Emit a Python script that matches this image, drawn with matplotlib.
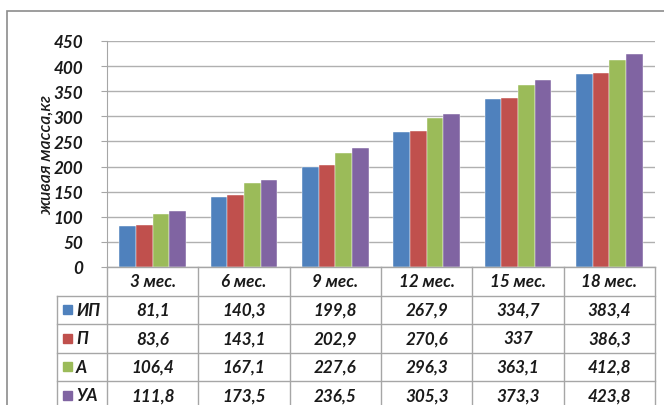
import matplotlib
matplotlib.use("Agg")
import matplotlib.pyplot as plt
from matplotlib.transforms import blended_transform_factory
from matplotlib.patches import Rectangle

# Live weight by age and group
periods = ["3 мес.", "6 мес.", "9 мес.", "12 мес.", "15 мес.", "18 мес."]
groups = ["ИП", "П", "А", "УА"]
ip = [81.1, 140.3, 199.8, 267.9, 334.7, 383.4]
p = [83.6, 143.1, 202.9, 270.6, 337, 386.3]
a = [106.4, 167.1, 227.6, 296.3, 363.1, 412.8]
ua = [111.8, 173.5, 236.5, 305.3, 373.3, 423.8]
series = [ip, p, a, ua]
colors = ["#4F81BD", "#C0504D", "#9BBB59", "#8064A2"]
yticks = [0, 50, 100, 150, 200, 250, 300, 350, 400, 450]

FONT = ["Lato", "DejaVu Sans"]
plt.rcParams["font.family"] = FONT
FS = 12.3

W, H = 664, 406
fig = plt.figure(figsize=(W / 100, H / 100), dpi=100)


def fx(px):
    return px / W


def fy(py):
    return 1 - py / H


# outer chart frame
fig.patches.append(Rectangle((fx(7), fy(420)), fx(700), fy(12) - fy(420),
                             transform=fig.transFigure, fill=False,
                             edgecolor="#8c8c8c", linewidth=1.2))

left, right, top, bottom = 107, 655, 42, 268
ax = fig.add_axes([fx(left), fy(bottom), fx(right - left), fy(top) - fy(bottom)])

n = len(series)
gap = 1.5
bw = 1 / (n + gap)
for k, (vals, c) in enumerate(zip(series, colors)):
    xs = [i + (gap / 2 + k + 0.5) * bw for i in range(len(periods))]
    ax.bar(xs, vals, width=bw, color=c, edgecolor="white", linewidth=0.3,
           zorder=3)

ax.set_xlim(0, len(periods))
ax.set_ylim(0, 450)
ax.set_yticks(yticks)
ax.set_yticklabels([str(t) for t in yticks], fontsize=FS,
                   fontweight="bold", fontstyle="italic", color="#1a1a1a")
ax.set_xticks([])
ax.grid(axis="y", color="#b0b0b0", linewidth=1.0, zorder=0)
for s in ["top", "right", "bottom"]:
    ax.spines[s].set_visible(False)
ax.spines["left"].set_color("#a6a6a6")
ax.tick_params(axis="y", length=4, color="#a6a6a6", pad=13)
ax.set_ylabel("живая масса,кг", fontsize=12.5, fontstyle="italic",
              fontweight="semibold", color="#1a1a1a")
ax.yaxis.set_label_coords(-(107 - 54) / (right - left), 0.5)

# data table under the plot area
tr = blended_transform_factory(ax.transData, fig.transFigure)
line_c = "#a6a6a6"
row_h = 28.5
rows_y = [bottom + row_h * r for r in range(len(groups) + 2)]
label_x0 = 57

line_kw = dict(color=line_c, linewidth=1.0, clip_on=False)
fig.lines.append(plt.Line2D([fx(left), fx(right)], [fy(rows_y[0])] * 2,
                            transform=fig.transFigure, **line_kw))
for y in rows_y[1:]:
    fig.lines.append(plt.Line2D([fx(label_x0), fx(right)], [fy(y)] * 2,
                                transform=fig.transFigure, **line_kw))
for i in range(len(periods) + 1):
    fig.lines.append(plt.Line2D([i, i], [fy(rows_y[0]), fy(420)],
                                transform=tr, **line_kw))
fig.lines.append(plt.Line2D([fx(label_x0)] * 2, [fy(rows_y[1]), fy(420)],
                            transform=fig.transFigure, **line_kw))

txt_kw = dict(fontsize=FS, fontweight="bold", fontstyle="italic",
              ha="center", va="center", color="#1a1a1a")
for i, per in enumerate(periods):
    fig.text(i + 0.5, fy(rows_y[0] + row_h / 2), per, transform=tr, **txt_kw)


def fmt(v):
    return f"{v:g}".replace(".", ",")


for r, (g, vals, c) in enumerate(zip(groups, series, colors)):
    yc = fy(rows_y[r + 1] + row_h / 2)
    fig.patches.append(Rectangle((fx(63), yc - (fy(0) - fy(4.5))),
                                 fx(9), fy(0) - fy(9),
                                 transform=fig.transFigure, color=c))
    fig.text(fx(76), yc, g, fontsize=FS, fontweight="bold",
             fontstyle="italic", ha="left", va="center", color="#1a1a1a")
    for i, v in enumerate(vals):
        fig.text(i + 0.5, yc, fmt(v), transform=tr, **txt_kw)

fig.savefig("out.png", dpi=100, facecolor="white")
